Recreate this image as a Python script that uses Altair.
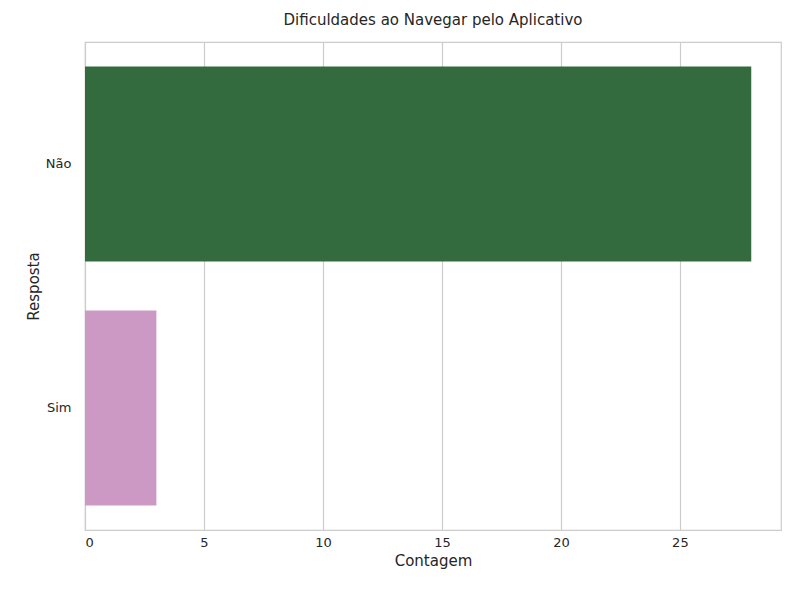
import altair as alt
import pandas as pd

respostas = ["Não", "Sim"]
contagens = [28, 3]
cores = ["#336b3f", "#cc99c5"]

df = pd.DataFrame({"Resposta": respostas, "Contagem": contagens})

chart = alt.Chart(df).mark_bar().encode(
    x=alt.X("Contagem:Q", title="Contagem",
            scale=alt.Scale(domain=[0, 29.25], nice=False),
            axis=alt.Axis(values=[0, 5, 10, 15, 20, 25], grid=True, ticks=False,
                          domain=False, labelPadding=6)),
    y=alt.Y("Resposta:N", title="Resposta", sort=respostas,
            scale=alt.Scale(paddingInner=0.2, paddingOuter=0.1),
            axis=alt.Axis(grid=False, ticks=False, domain=False, labelPadding=14)),
    color=alt.Color("Resposta:N", scale=alt.Scale(domain=respostas, range=cores), legend=None),
).properties(
    width=696, height=488,
    title="Dificuldades ao Navegar pelo Aplicativo",
    autosize=alt.AutoSizeParams(type="none"),
    padding={"left": 77, "top": 34, "right": 11, "bottom": 62},
).configure_view(
    stroke="#cccccc", strokeWidth=1.2
).configure_axis(
    gridColor="#cccccc", gridWidth=1.2,
    labelFont="DejaVu Sans", titleFont="DejaVu Sans",
    labelFontSize=13, titleFontSize=15, labelColor="#262626", titleColor="#262626",
    titleFontWeight="normal",
).configure_title(
    font="DejaVu Sans", fontSize=15, fontWeight="normal", color="#262626", offset=14
)

chart.save("out.html", embed_options={"renderer": "svg", "actions": False})
